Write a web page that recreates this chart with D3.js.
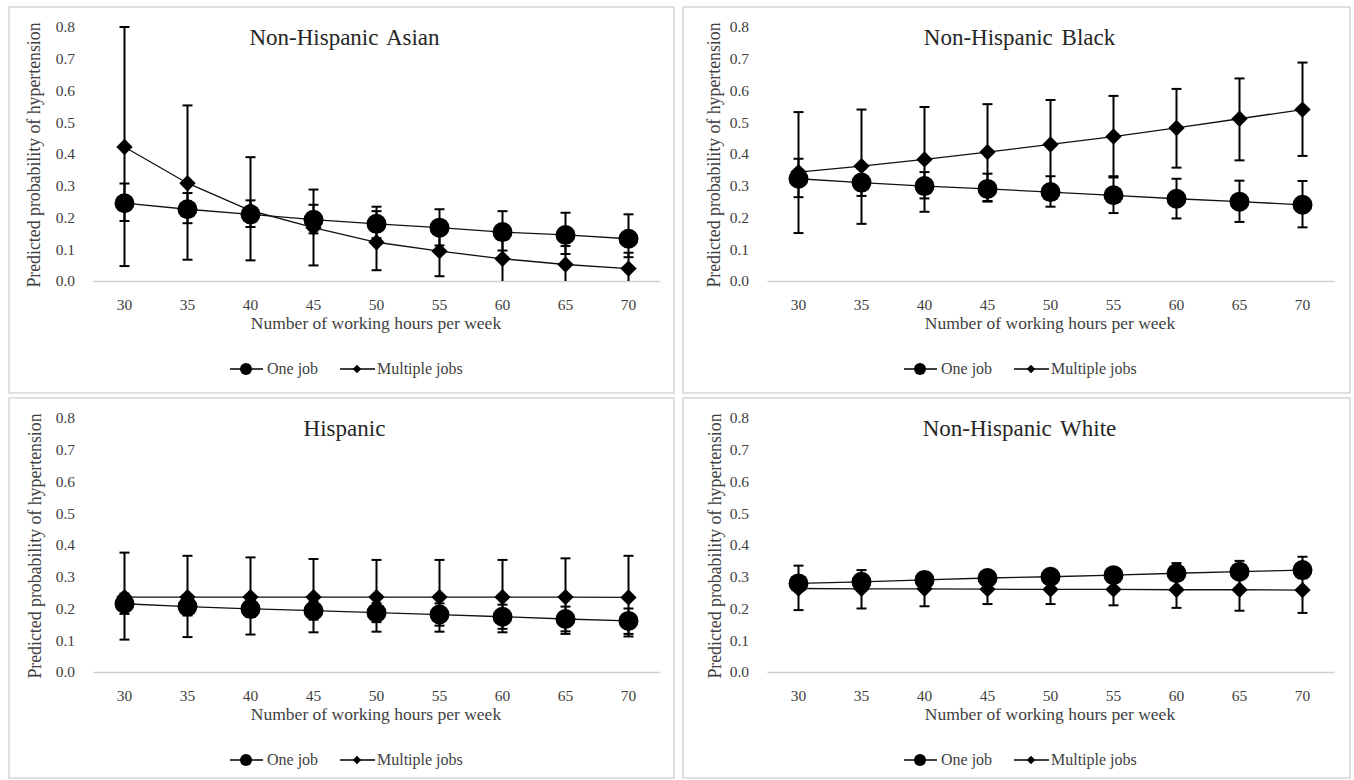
<html>
<head>
<meta charset="utf-8">
<script src="https://cdn.jsdelivr.net/npm/d3@7/dist/d3.min.js"></script>
<style>
  body { margin: 0; background: #fff; }
  svg text { font-family: "Liberation Serif", "Times New Roman", Times, "Nimbus Roman", "DejaVu Serif", serif !important; }
</style>
</head>
<body>
<div id="chart"></div>
<script>
// x categories
var hours = [30, 35, 40, 45, 50, 55, 60, 65, 70];
var yTicks = [0, 0.1, 0.2, 0.3, 0.4, 0.5, 0.6, 0.7, 0.8];
var seriesNames = ["One job", "Multiple jobs"];
var panelTitles = ["Non-Hispanic Asian", "Non-Hispanic Black", "Hispanic", "Non-Hispanic White"];

// Non-Hispanic Asian
var asianOne    = [0.245, 0.226, 0.210, 0.193, 0.180, 0.168, 0.154, 0.145, 0.133];
var asianOneLo  = [0.189, 0.182, 0.170, 0.150, 0.135, 0.112, 0.096, 0.085, 0.075];
var asianOneHi  = [0.307, 0.277, 0.254, 0.240, 0.234, 0.226, 0.220, 0.215, 0.210];
var asianMul    = [0.422, 0.308, 0.222, 0.168, 0.122, 0.094, 0.070, 0.052, 0.039];
var asianMulLo  = [0.047, 0.067, 0.065, 0.049, 0.034, 0.015, 0.000, 0.000, 0.000];
var asianMulHi  = [0.800, 0.553, 0.390, 0.288, 0.220, 0.160, 0.130, 0.110, 0.089];

// Non-Hispanic Black
var blackOne    = [0.322, 0.310, 0.299, 0.290, 0.280, 0.270, 0.259, 0.250, 0.240];
var blackOneLo  = [0.264, 0.268, 0.260, 0.252, 0.234, 0.214, 0.197, 0.186, 0.169];
var blackOneHi  = [0.385, 0.355, 0.343, 0.338, 0.330, 0.326, 0.322, 0.316, 0.315];
var blackMul    = [0.343, 0.362, 0.383, 0.406, 0.430, 0.455, 0.482, 0.511, 0.540];
var blackMulLo  = [0.151, 0.180, 0.218, 0.250, 0.290, 0.330, 0.357, 0.380, 0.394];
var blackMulHi  = [0.532, 0.540, 0.548, 0.557, 0.570, 0.583, 0.605, 0.638, 0.688];

// Hispanic
var hispOne     = [0.215, 0.206, 0.199, 0.193, 0.187, 0.181, 0.174, 0.167, 0.161];
var hispOneLo   = [0.183, 0.178, 0.173, 0.165, 0.157, 0.146, 0.136, 0.128, 0.120];
var hispOneHi   = [0.247, 0.234, 0.225, 0.221, 0.217, 0.216, 0.212, 0.206, 0.200];
var hispMul     = [0.236, 0.236, 0.236, 0.236, 0.236, 0.236, 0.236, 0.236, 0.235];
var hispMulLo   = [0.102, 0.110, 0.118, 0.125, 0.127, 0.127, 0.125, 0.120, 0.112];
var hispMulHi   = [0.376, 0.366, 0.361, 0.356, 0.353, 0.353, 0.353, 0.358, 0.366];

// Non-Hispanic White
var whiteOne    = [0.279, 0.284, 0.290, 0.296, 0.300, 0.305, 0.311, 0.316, 0.321];
var whiteOneLo  = [0.260, 0.268, 0.277, 0.284, 0.290, 0.294, 0.297, 0.297, 0.295];
var whiteOneHi  = [0.298, 0.302, 0.306, 0.312, 0.318, 0.326, 0.343, 0.350, 0.363];
var whiteMul    = [0.263, 0.262, 0.262, 0.261, 0.260, 0.260, 0.259, 0.259, 0.258];
var whiteMulLo  = [0.195, 0.200, 0.207, 0.214, 0.214, 0.210, 0.202, 0.193, 0.186];
var whiteMulHi  = [0.335, 0.321, 0.315, 0.310, 0.310, 0.313, 0.318, 0.325, 0.333];

var panels = [
  { title: panelTitles[0], one: [asianOne, asianOneLo, asianOneHi], mul: [asianMul, asianMulLo, asianMulHi] },
  { title: panelTitles[1], one: [blackOne, blackOneLo, blackOneHi], mul: [blackMul, blackMulLo, blackMulHi] },
  { title: panelTitles[2], one: [hispOne, hispOneLo, hispOneHi], mul: [hispMul, hispMulLo, hispMulHi] },
  { title: panelTitles[3], one: [whiteOne, whiteOneLo, whiteOneHi], mul: [whiteMul, whiteMulLo, whiteMulHi] }
];

// panel boxes
var boxes = [
  { x: 9,   y: 7,   w: 665, h: 386, tx: 25 },
  { x: 683, y: 7,   w: 667, h: 386, tx: 31 },
  { x: 9,   y: 398, w: 665, h: 380, tx: 26 },
  { x: 683, y: 398, w: 667, h: 380, tx: 32 }
];

var svg = d3.select("#chart").append("svg")
  .attr("width", 1354)
  .attr("height", 780);

var diamond = d3.symbol().type(d3.symbolDiamond2);

panels.forEach(function (p, k) {
  var b = boxes[k];
  var g = svg.append("g").attr("transform", "translate(" + b.x + "," + b.y + ")");

  g.append("rect")
    .attr("width", b.w).attr("height", b.h)
    .attr("fill", "#fff")
    .attr("stroke", "#d6d6d6")
    .attr("stroke-width", 1.5);

  var x = d3.scaleBand().domain(hours).range([84, 651]);
  var cx = function (h) { return x(h) + x.bandwidth() / 2; };
  var y = d3.scaleLinear().domain([0, 0.8]).range([274, 20]);

  // y axis (labels only)
  var ya = g.append("g").attr("transform", "translate(66,0)")
    .call(d3.axisLeft(y).tickValues(yTicks).tickFormat(d3.format(".1f")).tickSize(0).tickPadding(0));
  ya.attr("font-family", null);
  ya.select(".domain").remove();
  ya.selectAll("text")
    .style("font-size", "15.5px")
    .attr("fill", "#404040");

  // x axis
  var xa = g.append("g").attr("transform", "translate(0,274)")
    .call(d3.axisBottom(x).tickSize(0).tickSizeOuter(0).tickPadding(18));
  xa.attr("font-family", null);
  xa.select(".domain").attr("stroke", "#d0d0d0").attr("stroke-width", 1.5);
  xa.selectAll("text")
    .style("font-size", "15.5px")
    .attr("fill", "#404040");

  // titles
  g.append("text")
    .attr("x", b.w / 2 + 3).attr("y", 38)
    .attr("text-anchor", "middle")
    .style("font-size", "23px")
    .style("word-spacing", "3px")
    .attr("fill", "#262626")
    .text(p.title);

  g.append("text")
    .attr("x", 367).attr("y", 322)
    .attr("text-anchor", "middle")
    .style("font-size", "17.5px")
    .attr("fill", "#404040")
    .text("Number of working hours per week");

  g.append("text")
    .attr("transform", "translate(" + (b.tx + 6) + ",148) rotate(-90)")
    .attr("text-anchor", "middle")
    .style("font-size", "17.8px")
    .attr("fill", "#404040")
    .text("Predicted probability of hypertension");

  var line = d3.line().x(function (d, i) { return cx(hours[i]); }).y(function (d) { return y(d); });

  [p.one, p.mul].forEach(function (s, si) {
    // connecting line
    g.append("path")
      .attr("d", line(s[0]))
      .attr("fill", "none")
      .attr("stroke", "#111")
      .attr("stroke-width", 1.3);

    // error bars
    var eb = g.append("g").attr("stroke", "#000").attr("stroke-width", 2);
    hours.forEach(function (h, i) {
      var lo = y(s[1][i]), hi = y(s[2][i]), xc = cx(h);
      eb.append("line").attr("x1", xc).attr("x2", xc).attr("y1", lo).attr("y2", hi);
      if (s[1][i] > 0) {
        eb.append("line").attr("x1", xc - 5).attr("x2", xc + 5).attr("y1", lo).attr("y2", lo);
      }
      eb.append("line").attr("x1", xc - 5).attr("x2", xc + 5).attr("y1", hi).attr("y2", hi);
    });

    // markers
    if (si === 0) {
      g.selectAll(".c" + si).data(s[0]).enter().append("circle")
        .attr("cx", function (d, i) { return cx(hours[i]); })
        .attr("cy", function (d) { return y(d); })
        .attr("r", 10)
        .attr("fill", "#000");
    } else {
      g.selectAll(".d" + si).data(s[0]).enter().append("path")
        .attr("d", diamond.size(170))
        .attr("transform", function (d, i) { return "translate(" + cx(hours[i]) + "," + y(d) + ")"; })
        .attr("fill", "#000");
    }
  });

  // legend
  var lg = g.append("g").attr("transform", "translate(0,362)");
  lg.append("line").attr("x1", 221).attr("x2", 254).attr("stroke", "#000").attr("stroke-width", 1.5);
  lg.append("circle").attr("cx", 237).attr("r", 6).attr("fill", "#000");
  lg.append("text").attr("x", 258).attr("y", 5).style("font-size", "16px").attr("fill", "#404040").text(seriesNames[0]);
  lg.append("line").attr("x1", 331).attr("x2", 366).attr("stroke", "#000").attr("stroke-width", 1.5);
  lg.append("path").attr("d", diamond.size(45)).attr("transform", "translate(348,0)").attr("fill", "#000");
  lg.append("text").attr("x", 368).attr("y", 5).style("font-size", "16px").attr("fill", "#404040").text(seriesNames[1]);
});
</script>
</body>
</html>
